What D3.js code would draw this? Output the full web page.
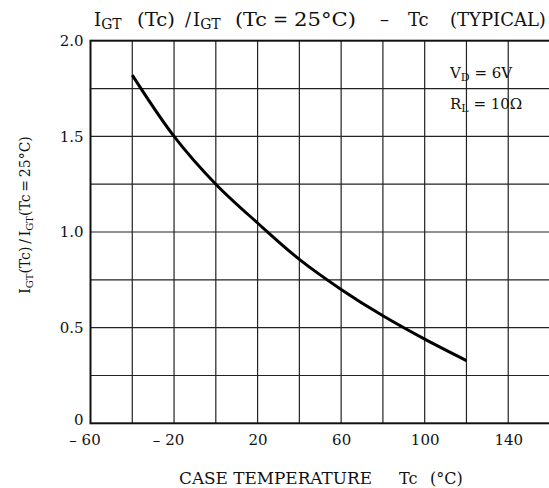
<!DOCTYPE html>
<html><head><meta charset="utf-8">
<script src="https://cdn.jsdelivr.net/npm/d3@7"></script>
<style>body{margin:0;background:#fff}svg{display:block}</style>
</head><body><svg id="c" width="549" height="488"></svg>
<script>
const temps = [-40, -20, 0, 20, 40, 60, 80, 100, 120];
const ratio = [1.82, 1.50, 1.25, 1.047, 0.857, 0.70, 0.562, 0.44, 0.328];
const xTicks = [-60, -20, 20, 60, 100, 140];
const xTickLabels = ["\u2013 60", "\u2013 20", "20", "60", "100", "140"];
const xGrid = [-40, -20, 0, 20, 40, 60, 80, 100, 120, 140];
const yTicks = [0, 0.5, 1.0, 1.5, 2.0];
const yTickLabels = ["0", "0.5", "1.0", "1.5", "2.0"];
const yGrid = [0.25, 0.5, 0.75, 1.0, 1.25, 1.5, 1.75];

const svg = d3.select("#c");
const font = "'DejaVu Serif', 'Liberation Serif', serif";
const L = 90.5, R = 550, T = 40.7, B = 423.3;
const x = d3.scaleLinear().domain([-60, 160]).range([L, R]);
const y = d3.scaleLinear().domain([0, 2]).range([B, T]);

// grid
svg.append("g").selectAll("line").data(xGrid).join("line")
  .attr("x1", d => x(d)).attr("x2", d => x(d)).attr("y1", T).attr("y2", B)
  .attr("stroke", "#222").attr("stroke-width", 1.2);
svg.append("g").selectAll("line").data(yGrid).join("line")
  .attr("x1", L).attr("x2", R).attr("y1", d => y(d)).attr("y2", d => y(d))
  .attr("stroke", "#222").attr("stroke-width", 1.2);
// frame
svg.append("rect").attr("x", L).attr("y", T).attr("width", R - L).attr("height", B - T)
  .attr("fill", "none").attr("stroke", "#111").attr("stroke-width", 2);

// axes (labels only)
const xAxis = d3.axisBottom(x).tickValues(xTicks).tickSize(0).tickPadding(11)
  .tickFormat((d, i) => xTickLabels[i]);
const gx = svg.append("g").attr("transform", `translate(0,${B})`).call(xAxis);
gx.select(".domain").remove();
gx.selectAll("text").attr("font-family", font).attr("font-size", 15).attr("fill", "#111")
  .attr("dx", (d, i) => xTickLabels[i].startsWith("\u2013") ? -6 : 0);

const yAxis = d3.axisLeft(y).tickValues(yTicks).tickSize(0).tickPadding(7)
  .tickFormat((d, i) => yTickLabels[i]);
const gy = svg.append("g").attr("transform", `translate(${L},0)`).call(yAxis);
gy.select(".domain").remove();
gy.selectAll("text").attr("font-family", font).attr("font-size", 15).attr("fill", "#111")
  .attr("dy", d => d === 0 ? "0.1em" : "0.32em");

// curve
const line = d3.line().x((d, i) => x(temps[i])).y(d => y(d)).curve(d3.curveCatmullRom);
svg.append("path").datum(ratio).attr("d", line).attr("fill", "none")
  .attr("stroke", "#000").attr("stroke-width", 3);

// title
const title = svg.append("text").attr("y", 26)
  .attr("font-family", font).attr("font-size", 18).attr("fill", "#111");
title.append("tspan").attr("x", 94).text("I");
title.append("tspan").attr("font-size", 14).attr("dy", 3).text("GT");
title.append("tspan").attr("dy", -3).attr("x", 137).attr("textLength", 38).attr("lengthAdjust", "spacingAndGlyphs").text("(Tc)");
title.append("tspan").attr("x", 185).text("/");
title.append("tspan").attr("x", 193).text("I");
title.append("tspan").attr("font-size", 14).attr("dy", 3).text("GT");
title.append("tspan").attr("dy", -3).attr("x", 235).attr("textLength", 32).attr("lengthAdjust", "spacingAndGlyphs").text("(Tc");
title.append("tspan").attr("x", 273).text("=");
title.append("tspan").attr("x", 294).attr("textLength", 62).attr("lengthAdjust", "spacingAndGlyphs").text("25\u00B0C)");
title.append("tspan").attr("x", 380).text("\u2013");
title.append("tspan").attr("x", 408).text("Tc");
title.append("tspan").attr("x", 450).text("(TYPICAL)");

// annotation
const a1 = svg.append("text").attr("x", 450).attr("y", 78)
  .attr("font-family", font).attr("font-size", 15).attr("fill", "#111");
a1.append("tspan").text("V");
a1.append("tspan").attr("font-size", 11).attr("dy", 3).text("D");
a1.append("tspan").attr("dy", -3).text(" = 6V");
const a2 = svg.append("text").attr("x", 450).attr("y", 109)
  .attr("font-family", font).attr("font-size", 15).attr("fill", "#111");
a2.append("tspan").text("R");
a2.append("tspan").attr("font-size", 11).attr("dy", 3).text("L");
a2.append("tspan").attr("dy", -3).text(" = 10\u03A9");

// x title
const xt = svg.append("text").attr("y", 484)
  .attr("font-family", font).attr("font-size", 16).attr("fill", "#111");
xt.append("tspan").attr("x", 179).attr("textLength", 193).attr("lengthAdjust", "spacingAndGlyphs").text("CASE TEMPERATURE");
xt.append("tspan").attr("x", 399).text("Tc");
xt.append("tspan").attr("x", 430).text("(\u00B0C)");

// y title
const yt = svg.append("text").attr("transform", "translate(30,215) rotate(-90)")
  .attr("text-anchor", "middle").attr("font-family", font).attr("font-size", 14).attr("fill", "#111");
yt.append("tspan").text("I");
yt.append("tspan").attr("font-size", 10).attr("dy", 3).text("GT");
yt.append("tspan").attr("dy", -3).text("(Tc)\u2009/\u2009I");
yt.append("tspan").attr("font-size", 10).attr("dy", 3).text("GT");
yt.append("tspan").attr("dy", -3).text("(Tc\u2009=\u200925\u00B0C)");
</script></body></html>
